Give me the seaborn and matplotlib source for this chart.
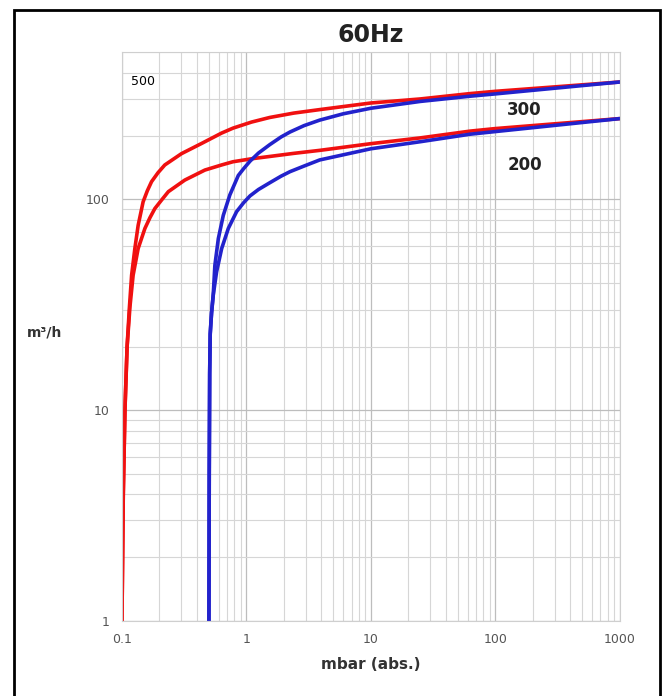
import numpy as np
import pandas as pd
import seaborn as sns
import matplotlib.pyplot as plt
from matplotlib.patches import Rectangle
from matplotlib.ticker import LogLocator, FixedLocator, NullFormatter

# curve data (pressure in mbar, speed in m3/h)
red_hi_x = [0.1, 0.1025, 0.1057, 0.11, 0.1145, 0.1196, 0.127, 0.135, 0.148, 0.16, 0.173, 0.195, 0.221,
            0.301, 0.437, 0.632, 0.78, 1.1, 1.54, 2.4, 3.88, 10, 25, 62.5, 100, 1000]
red_hi_y = [1, 4, 10, 20, 30, 43.7, 58.5, 75.4, 97.5, 110, 121.5, 134, 145.8,
            165, 184.5, 206.6, 218, 233, 245, 257, 267, 287, 300, 318, 326, 361]

red_lo_x = [0.1, 0.1025, 0.1057, 0.11, 0.116, 0.123, 0.135, 0.153, 0.168, 0.184, 0.21, 0.236, 0.32,
            0.464, 0.632, 0.78, 1.1, 1.54, 2.4, 3.88, 10, 25, 62.5, 100, 1000]
red_lo_y = [1, 4, 10, 20, 31, 43.7, 58.5, 72.9, 82, 90.6, 100, 108.9, 123.6,
            137.9, 145.8, 151, 156, 160, 165.5, 171, 184, 196, 211, 217, 242]

blue_hi_x = [0.5, 0.503, 0.507, 0.512, 0.525, 0.541, 0.558, 0.595, 0.652, 0.736, 0.861, 0.95, 1.07,
             1.25, 1.54, 1.9, 2.24, 2.9, 3.88, 6, 10, 25, 62.5, 100, 1000]
blue_hi_y = [1, 5, 15, 23, 29, 35, 48.6, 65.2, 84, 105, 130, 140, 152,
             166, 182, 198, 209, 224, 238, 255, 271, 292, 309, 317, 361]

blue_lo_x = [0.5, 0.503, 0.507, 0.512, 0.525, 0.541, 0.576, 0.633, 0.716, 0.835, 0.95, 1.07, 1.25,
             1.54, 1.9, 2.24, 2.9, 3.88, 10, 25, 62.5, 100, 1000]
blue_lo_y = [1, 5, 15, 23, 29, 35, 45.3, 58.5, 72.9, 87.6, 96.5, 104, 111.5,
             120, 129, 135.5, 144, 154, 174, 188, 204, 210, 242]

x_ticks = [0.1, 1, 10, 100, 1000]
x_tick_labels = ['0.1', '1', '10', '100', '1000']
y_ticks = [1, 10, 100]
y_tick_labels = ['1', '10', '100']

curves = {'red_hi': (red_hi_x, red_hi_y), 'red_lo': (red_lo_x, red_lo_y),
          'blue_hi': (blue_hi_x, blue_hi_y), 'blue_lo': (blue_lo_x, blue_lo_y)}
colors = {'red_hi': '#f01010', 'red_lo': '#f01010', 'blue_hi': '#2222cc', 'blue_lo': '#2222cc'}

rows = []
for name, (xs, ys) in curves.items():
    for i, (x, y) in enumerate(zip(xs, ys)):
        rows.append({'curve': name, 'order': i, 'mbar': x, 'speed': y})
df = pd.DataFrame(rows)

sns.set_style('white')
fig = plt.figure(figsize=(6.7, 6.96), dpi=100)
ax = fig.add_axes([0.182, 0.108, 0.743, 0.817])

ax.set_xscale('log')
ax.set_yscale('log')
ax.set_xlim(0.1, 1000)
ax.set_ylim(1, 500)

# grid
ax.xaxis.set_major_locator(FixedLocator(x_ticks))
ax.xaxis.set_minor_locator(LogLocator(base=10, subs=np.arange(2, 10)))
ax.xaxis.set_minor_formatter(NullFormatter())
ax.yaxis.set_major_locator(FixedLocator(y_ticks))
ax.yaxis.set_minor_locator(LogLocator(base=10, subs=np.arange(2, 10)))
ax.yaxis.set_minor_formatter(NullFormatter())
ax.grid(which='major', color='#bdbdbd', linewidth=0.9)
ax.grid(which='minor', color='#d6d6d6', linewidth=0.8)
ax.set_axisbelow(True)

for name in curves:
    sub = df[df['curve'] == name]
    sns.lineplot(data=sub, x='mbar', y='speed', sort=False, estimator=None,
                 color=colors[name], linewidth=2.6, ax=ax)

ax.set_xticks(x_ticks)
ax.set_xticklabels(x_tick_labels)
ax.set_yticks(y_ticks)
ax.set_yticklabels(y_tick_labels)
ax.tick_params(which='both', length=0, labelsize=9, colors='#555555', pad=9)

for s in ax.spines.values():
    s.set_color('#cfcfcf')
    s.set_linewidth(0.8)

ax.set_xlabel('mbar (abs.)', fontsize=11, fontweight='bold', color='#333333', labelpad=8)
ax.set_ylabel('m³/h', fontsize=10, fontweight='bold', color='#333333', rotation=0, labelpad=0)
ax.yaxis.set_label_coords(-0.155, 0.494)
ax.set_title('60Hz', fontsize=17, fontweight='bold', color='#222222', pad=7)

ax.text(0.147, 364, '500', fontsize=9, color='black', ha='center', va='center')
ax.text(172, 265, '300', fontsize=12, fontweight='bold', color='#222222', ha='center', va='center')
ax.text(172, 146, '200', fontsize=12, fontweight='bold', color='#222222', ha='center', va='center')

fig.patches.append(Rectangle((0.021, -0.01), 0.964, 0.995, transform=fig.transFigure,
                             fill=False, edgecolor='black', linewidth=2))

fig.savefig('out.png', dpi=100)
